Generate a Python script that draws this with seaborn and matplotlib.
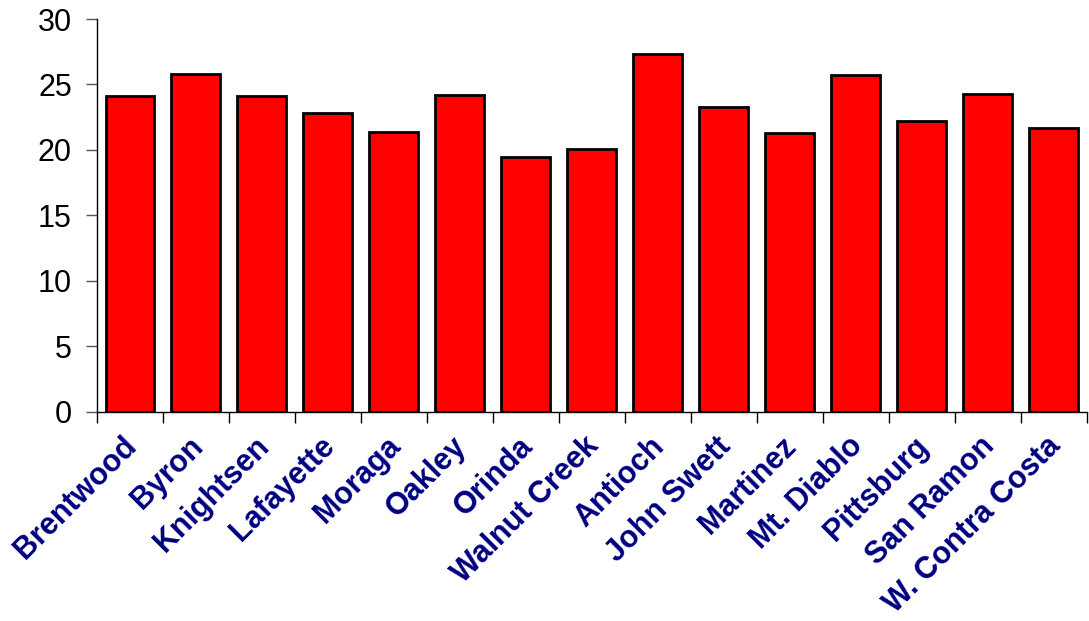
import matplotlib
matplotlib.use("Agg")
import matplotlib.pyplot as plt
import matplotlib.transforms as mtransforms
import seaborn as sns
import pandas as pd
import numpy as np

districts = ["Brentwood", "Byron", "Knightsen", "Lafayette", "Moraga", "Oakley",
             "Orinda", "Walnut Creek", "Antioch", "John Swett", "Martinez",
             "Mt. Diablo", "Pittsburg", "San Ramon", "W. Contra Costa"]
values = [24.1, 25.8, 24.1, 22.8, 21.4, 24.2, 19.5, 20.1, 27.3, 23.3, 21.3,
          25.7, 22.2, 24.3, 21.7]

sns.set_style("white")
plt.rcParams["font.family"] = ["Liberation Sans", "DejaVu Sans"]

df = pd.DataFrame({"district": districts, "value": values})

fig = plt.figure(figsize=(10.89, 6.21), dpi=100)
ax = fig.add_axes([0.089, 0.3366, 0.909, 0.6328])
sns.barplot(data=df, x="district", y="value", color="#ff0000", saturation=1,
            edgecolor="black", linewidth=2, width=0.74, ax=ax)

ax.set_xlim(-0.5, len(districts) - 0.5)
ax.set_ylim(0, 30)
ax.set_yticks(range(0, 31, 5))
ax.set_xlabel("")
ax.set_ylabel("")

for s in ["top", "right"]:
    ax.spines[s].set_visible(False)
for s in ["left", "bottom"]:
    ax.spines[s].set_color("black")
    ax.spines[s].set_linewidth(1.0)

ax.set_xticks(np.arange(-0.5, len(districts), 1.0), minor=True)
ax.tick_params(axis="x", which="major", length=0, pad=8)
ax.tick_params(axis="x", which="minor", length=8, width=1, color="black", direction="out", bottom=True)
ax.tick_params(axis="y", length=8, width=1, color="#555555", direction="out", left=True,
               labelsize=22, labelcolor="black", pad=10)
ax.set_xticks(range(len(districts)))
ax.set_xticklabels(districts, rotation=45, ha="right", fontsize=22,
                   fontweight="bold", color="#000080")

# nudge the rotated labels so their ends sit just right of / below each bar centre
shift = mtransforms.ScaledTranslation(0.13, -0.08, fig.dpi_scale_trans)
for lab in ax.get_xticklabels():
    lab.set_transform(lab.get_transform() + shift)

fig.savefig("out.png", dpi=100)
